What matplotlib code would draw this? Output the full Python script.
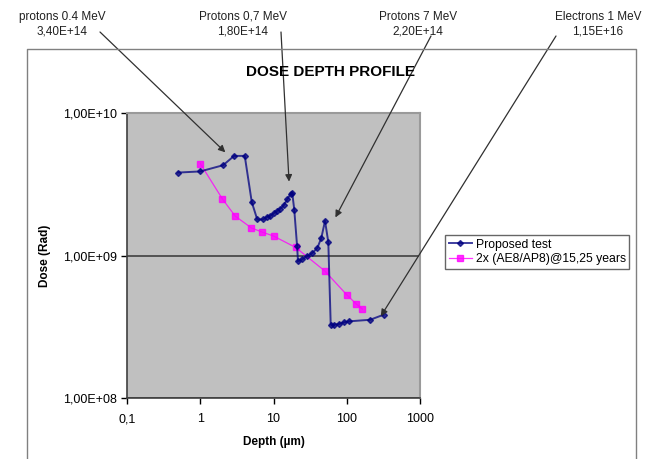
import matplotlib
matplotlib.use('Agg')
import matplotlib.pyplot as plt
from matplotlib.lines import Line2D
from matplotlib.ticker import FixedLocator, FixedFormatter, NullLocator

plt.rcParams['font.family'] = ['Liberation Sans', 'DejaVu Sans']

# Proposed test (depth in um, dose in rad)
test_depth = [0.5, 1.0, 2.05, 2.9, 4.05, 5.05, 6.0, 7.2, 8.2, 9.1, 10.1, 11.2,
              12.4, 13.8, 15.4, 17.1, 18.0, 19.2, 21.0, 21.6, 24.7, 28.9,
              33.9, 39.7, 45.0, 50.5, 56.0, 60.4, 67.0, 78.0, 92.0, 107.0,
              209.0, 318.0]
test_dose = [3.82e9, 3.89e9, 4.3e9, 5.0e9, 5.0e9, 2.37e9, 1.79e9, 1.79e9,
             1.87e9, 1.9e9, 1.98e9, 2.05e9, 2.13e9, 2.25e9, 2.48e9, 2.69e9,
             2.76e9, 2.1e9, 1.16e9, 9.1e8, 9.4e8, 9.9e8, 1.04e9, 1.13e9,
             1.33e9, 1.75e9, 1.24e9, 3.27e8, 3.27e8, 3.3e8, 3.4e8, 3.45e8,
             3.54e8, 3.84e8]

# 2x (AE8/AP8) @ 15,25 years
model_depth = [1.0, 2.0, 3.0, 5.0, 7.0, 10.0, 20.0, 50.0, 100.0, 133.0, 164.0]
model_dose = [4.42e9, 2.5e9, 1.89e9, 1.56e9, 1.46e9, 1.37e9, 1.14e9, 7.8e8,
              5.3e8, 4.6e8, 4.2e8]

x_ticks = [0.1, 1, 10, 100, 1000]
x_labels = ['0,1', '1', '10', '100', '1000']
y_ticks = [1e8, 1e9, 1e10]
y_labels = ['1,00E+08', '1,00E+09', '1,00E+10']

# annotation texts and arrow tips (data coords) / tails (figure pixels from top-left)
notes = ['protons 0.4 MeV\n3,40E+14', 'Protons 0,7 MeV\n1,80E+14',
         'Protons 7 MeV\n2,20E+14', 'Electrons 1 MeV\n1,15E+16']
note_pos = [(62, 24), (243, 24), (418, 24), (598, 24)]
tip_xy = [(2.2, 5.3e9), (16.3, 3.3e9), (70.0, 1.85e9), (292.0, 3.75e8)]
tail_px = [(100, 32), (281, 32), (431, 36), (556, 36)]

W, H = 654, 459
fig = plt.figure(figsize=(W / 100, H / 100), dpi=100)
ax = fig.add_axes([127 / W, 1 - 398 / H, (420 - 127) / W, (398 - 113) / H])
ax.set_facecolor('#c0c0c0')

ax.plot(test_depth, test_dose, color='#000080', lw=1.4, alpha=0.75,
        marker='D', ms=3.0, mfc='#000080', mec='#000080', label='Proposed test', zorder=3)
ax.plot(model_depth, model_dose, color='#ff00ff', lw=0.9, alpha=0.8,
        marker='s', ms=4.5, mfc='#ff00ff', mec='#ff00ff',
        label='2x (AE8/AP8)@15,25 years', zorder=2)

ax.set_xscale('log')
ax.set_yscale('log')
ax.set_xlim(0.1, 1000)
ax.set_ylim(1e8, 1e10)
ax.xaxis.set_major_locator(FixedLocator(x_ticks))
ax.xaxis.set_major_formatter(FixedFormatter(x_labels))
ax.yaxis.set_major_locator(FixedLocator(y_ticks))
ax.yaxis.set_major_formatter(FixedFormatter(y_labels))
ax.xaxis.set_minor_locator(NullLocator())
ax.yaxis.set_minor_locator(NullLocator())
ax.tick_params(labelsize=9, colors='#000000', length=4, width=1)
ax.tick_params(axis='x', pad=7)
ax.grid(axis='y', which='major', color='#404040', lw=1.2)
ax.set_axisbelow(True)
for s in ['left', 'bottom']:
    ax.spines[s].set_color('#404040')
    ax.spines[s].set_linewidth(1.2)
for s in ['top', 'right']:
    ax.spines[s].set_color('#9a9a9a')
    ax.spines[s].set_linewidth(1.5)

ax.set_xlabel('Depth (µm)', fontsize=8.5, fontweight='bold', labelpad=8)
ax.set_ylabel('Dose (Rad)', fontsize=8.5, fontweight='bold', labelpad=8)

fig.text(330 / W, 1 - 72 / H, 'DOSE DEPTH PROFILE', fontsize=11,
         fontweight='bold', ha='center', va='center')

leg = ax.legend(loc='upper left', bbox_to_anchor=(445 / W, 1 - 235 / H),
                bbox_transform=fig.transFigure, fontsize=8.8, frameon=True,
                fancybox=False, edgecolor='#404040', borderpad=0.3,
                handlelength=1.9, handletextpad=0.3, labelspacing=0.2,
                borderaxespad=0)
leg.get_frame().set_linewidth(1.0)

# outer chart frame
fx = [27 / W, 27 / W, 636 / W, 636 / W]
fy = [0, 1 - 49 / H, 1 - 49 / H, 0]
fig.add_artist(Line2D(fx, fy, color='#808080', lw=1.0, transform=fig.transFigure))

for txt, (tx, ty), tip, (ax_px, ay_px) in zip(notes, note_pos, tip_xy, tail_px):
    fig.text(tx / W, 1 - ty / H, txt, fontsize=8.5, ha='center', va='center',
             color='#202020', linespacing=1.3)
    ax.annotate('', xy=tip, xycoords='data',
                xytext=(ax_px / W, 1 - ay_px / H), textcoords='figure fraction',
                arrowprops=dict(arrowstyle='-|>', color='#303030', lw=0.9,
                                mutation_scale=10, shrinkA=0, shrinkB=0),
                annotation_clip=False, zorder=5)

plt.savefig('out.png', dpi=100)
plt.close()
